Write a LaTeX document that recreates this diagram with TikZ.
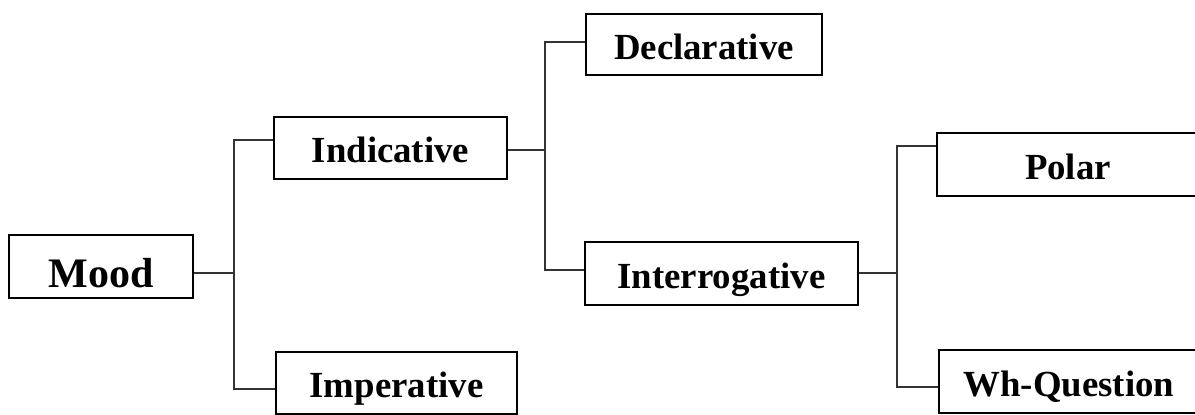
\documentclass[tikz,border=0pt]{standalone}
\usepackage{fontspec}
\setmainfont{Liberation Serif}
\usepackage{tikz}
\usetikzlibrary{positioning,calc}

\begin{document}
\begin{tikzpicture}[x=0.75pt,y=-0.75pt,
  cat/.style={draw,line width=1.6pt,inner sep=0pt,align=center,
    text height=22pt,text depth=0pt,
    font=\fontsize{27.6}{30}\selectfont\bfseries},
  big/.style={text height=31pt,font=\fontsize{31.5}{34}\selectfont\bfseries},
  sz/.style 2 args={minimum width=#1*0.75pt,minimum height=#2*0.75pt},
  link/.style={line width=0.9pt,draw=black!80}]
\clip (0,0) rectangle (1195,414);
% the system of mood choices, boxes at pixel centres
\node[cat,big,sz={184}{63}] (mood) at (101,266.5) {Mood};
\node[cat,sz={233}{62}] (ind) at (390.5,148) {Indicative};
\node[cat,sz={241}{62}] (imp) at (396.5,383) {Imperative};
\node[cat,sz={236}{61}] (decl) at (704,44.5) {Declarative};
\node[cat,sz={273}{63}] (inter) at (721.5,273.5) {Interrogative};
\node[cat,sz={262}{63}] (polar) at (1068,164.5) {Polar};
\node[cat,sz={260}{63}] (wh) at (1069,381.5) {Wh-Question};
% bracket joints: entry, top arm, bottom arm
\coordinate (b1) at (234,273); \coordinate (b1t) at (234,140); \coordinate (b1b) at (234,389);
\coordinate (b2) at (545,150); \coordinate (b2t) at (545,42);  \coordinate (b2b) at (545,270);
\coordinate (b3) at (897,273); \coordinate (b3t) at (897,146); \coordinate (b3b) at (897,387);
\foreach \src/\b/\top/\bot in {mood/b1/ind/imp, ind/b2/decl/inter, inter/b3/polar/wh}{
  \draw[link] (\src.east |- \b) -- (\b);
  \draw[link] (\top.west |- \b t) -- (\b t) -- (\b b) -- (\bot.west |- \b b);
}
\end{tikzpicture}
\end{document}
